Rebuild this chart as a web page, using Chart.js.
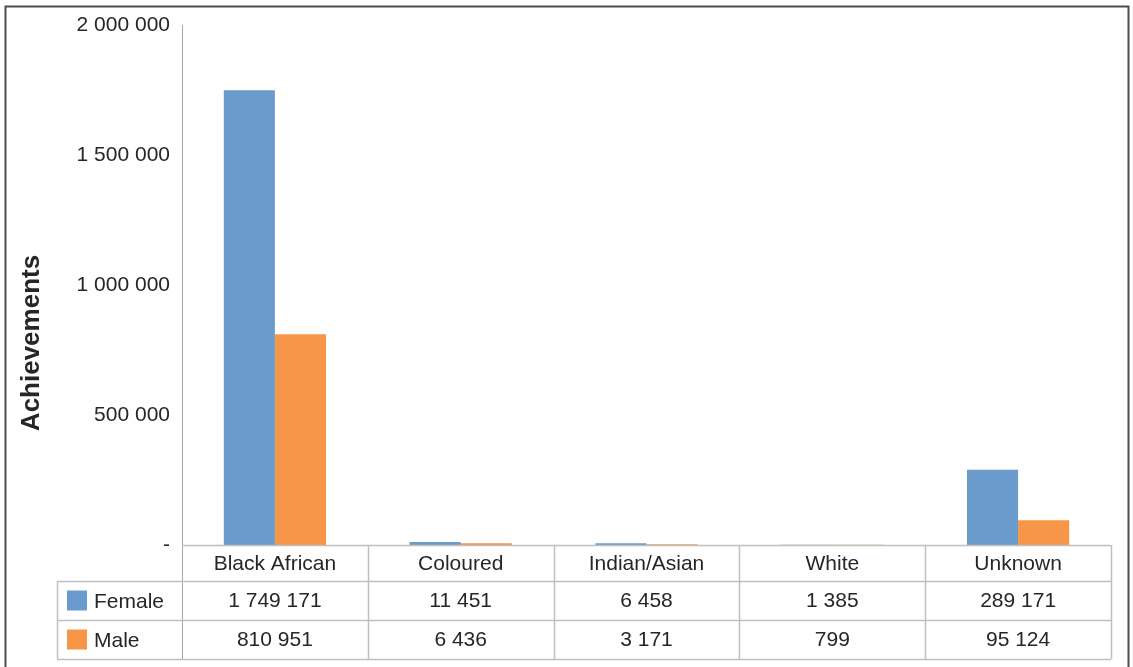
<!DOCTYPE html>
<html>
<head>
<meta charset="utf-8">
<script src="https://cdn.jsdelivr.net/npm/chart.js@4"></script>
<style>
  body { margin: 0; background: #fff; }
  canvas { display: block; }
</style>
</head>
<body>
<canvas id="chart" width="1133" height="667"></canvas>
<script>
const categories = ['Black African', 'Coloured', 'Indian/Asian', 'White', 'Unknown'];
const female = [1749171, 11451, 6458, 1385, 289171];
const male = [810951, 6436, 3171, 799, 95124];
const yTicks = [0, 500000, 1000000, 1500000, 2000000];

const FONT = '"Liberation Sans", Arial, sans-serif';
const TEXT = '#262626';
const GRID = '#BFBFBF';

function fmt(v) {
    if (v === 0) return '-';
    return String(v).replace(/\B(?=(\d{3})+(?!\d))/g, ' ');
}

const seriesList = [
    { name: 'Female', data: female, color: '#6A9BCC' },
    { name: 'Male', data: male, color: '#F79646' },
];

// data table under the plot + frame + axis title
const tablePlugin = {
    id: 'dataTable',
    afterDraw(chart) {
        const ctx = chart.ctx;
        const area = chart.chartArea;
        const x = chart.scales.x;
        const rowH = [36, 39, 39];
        const legendLeft = 57;
        const top = area.bottom;
        const row1 = top + rowH[0];
        const row2 = row1 + rowH[1];
        const row3 = row2 + rowH[2];
        const step = (area.right - area.left) / categories.length;

        ctx.save();
        // y axis line
        ctx.strokeStyle = '#A6A6A6';
        ctx.lineWidth = 1;
        ctx.beginPath();
        ctx.moveTo(area.left + 0.5, area.top);
        ctx.lineTo(area.left + 0.5, row3);
        ctx.stroke();

        ctx.strokeStyle = GRID;
        ctx.lineWidth = 1.5;
        ctx.beginPath();
        ctx.moveTo(area.left, top + 0.5); ctx.lineTo(area.right, top + 0.5);
        [row1, row2, row3].forEach(y => {
            ctx.moveTo(legendLeft, y + 0.5); ctx.lineTo(area.right, y + 0.5);
        });
        ctx.moveTo(legendLeft + 0.5, row1); ctx.lineTo(legendLeft + 0.5, row3);
        for (let i = 1; i <= categories.length; i++) {
            const cx = Math.round(area.left + step * i) + 0.5;
            ctx.moveTo(cx, top); ctx.lineTo(cx, row3);
        }
        ctx.stroke();

        ctx.fillStyle = TEXT;
        ctx.font = '21px ' + FONT;
        ctx.textAlign = 'center';
        ctx.textBaseline = 'middle';
        categories.forEach((c, i) => {
            const cx = x.getPixelForValue(i);
            ctx.fillText(c, cx, (top + row1) / 2 + 1);
            ctx.fillText(fmt(female[i]), cx, (row1 + row2) / 2 + 1);
            ctx.fillText(fmt(male[i]), cx, (row2 + row3) / 2 + 1);
        });

        const rows = [[row1, row2], [row2, row3]];
        seriesList.forEach((s, i) => {
            const cy = (rows[i][0] + rows[i][1]) / 2;
            ctx.fillStyle = s.color;
            ctx.fillRect(legendLeft + 10, cy - 10, 20, 20);
            ctx.fillStyle = TEXT;
            ctx.textAlign = 'left';
            ctx.fillText(s.name, legendLeft + 37, cy + 2);
        });

        // axis title
        ctx.save();
        ctx.translate(32, 343);
        ctx.rotate(-Math.PI / 2);
        ctx.font = 'bold 26px ' + FONT;
        ctx.textAlign = 'center';
        ctx.textBaseline = 'middle';
        ctx.fillStyle = TEXT;
        ctx.fillText('Achievements', 0, 0);
        ctx.restore();

        // outer frame
        ctx.strokeStyle = '#4D4D4D';
        ctx.lineWidth = 2;
        ctx.strokeRect(5.5, 6.5, 1123, 675);
        ctx.restore();
    }
};

new Chart(document.getElementById('chart'), {
    type: 'bar',
    data: {
        labels: categories,
        datasets: seriesList.map(s => ({
            label: s.name,
            data: s.data,
            backgroundColor: s.color,
            borderWidth: 0,
            categoryPercentage: 0.55,
            barPercentage: 1,
        })),
    },
    options: {
        responsive: false,
        animation: false,
        events: [],
        layout: { padding: { top: 25, right: 22, bottom: 122, left: 0 } },
        plugins: {
            legend: { display: false },
            tooltip: { enabled: false },
        },
        scales: {
            x: { display: false },
            y: {
                min: 0,
                max: 2000000,
                afterBuildTicks: (scale) => { scale.ticks = yTicks.map(v => ({ value: v })); },
                afterFit: (scale) => { scale.width = 182; },
                grid: { display: false },
                border: { display: false },
                ticks: {
                    padding: 4,
                    color: TEXT,
                    font: { family: FONT, size: 21 },
                    callback: (v) => fmt(v),
                },
            },
        },
    },
    plugins: [tablePlugin],
});
</script>
</body>
</html>
